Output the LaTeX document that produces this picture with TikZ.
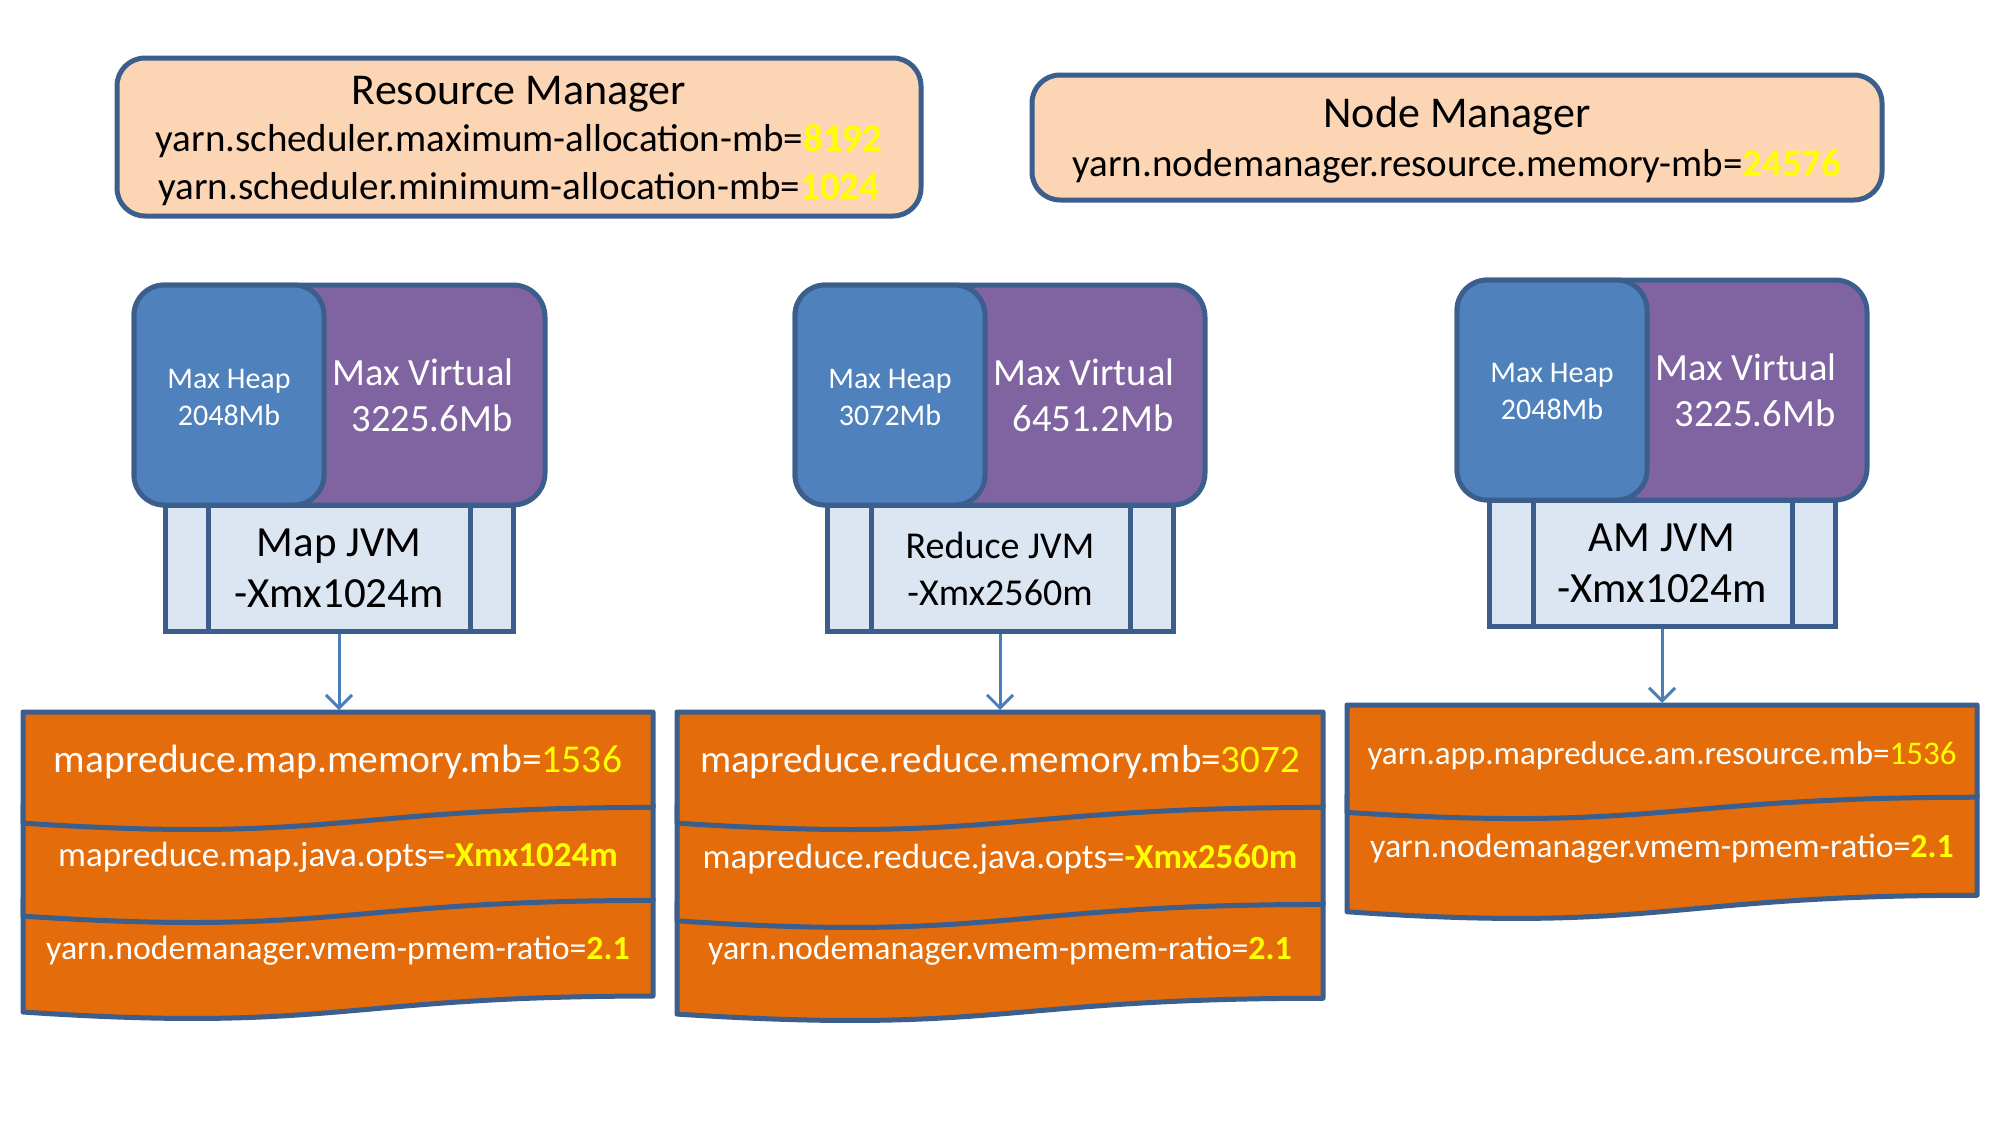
\documentclass[tikz,border=0pt]{standalone}
\usepackage{fontspec}
\setmainfont{Carlito}
\usetikzlibrary{arrows.meta}
\definecolor{peach}{HTML}{FCD5B5}
\definecolor{bord}{HTML}{3B5E8C}
\definecolor{heap}{HTML}{4F81BD}
\definecolor{virt}{HTML}{8064A2}
\definecolor{jvmfill}{HTML}{DCE6F2}
\definecolor{orng}{HTML}{E46C0A}
\definecolor{arr}{HTML}{4A7EBB}
\definecolor{yel}{HTML}{FFFF00}
\newcommand{\fsz}[2]{\fontsize{#1}{#2}\selectfont}
% document section: left, right, top, height
\newcommand{\docsec}[4]{%
  \draw[secstyle] (#1,#3) -- (#2,#3) -- (#2,{#3+0.802*#4})
    .. controls ({(#1+#2)/2},{#3+0.802*#4}) and ({(#1+#2)/2},{#3+1.1075*#4}) .. (#1,{#3+0.934*#4}) -- cycle;}
\begin{document}
\begin{tikzpicture}[x=1pt,y=-1pt,
  mgrbox/.style={draw=bord,fill=peach,line width=5pt,rounded corners=28pt},
  virtbox/.style={draw=bord,fill=virt,line width=5pt,rounded corners=32pt},
  heapbox/.style={draw=bord,fill=heap,line width=5pt,rounded corners=30pt},
  jvmbox/.style={draw=bord,fill=jvmfill,line width=5pt},
  secstyle/.style={draw=bord,fill=orng,line width=5pt,line join=round},
  wtext/.style={text=white,align=center,inner sep=0pt},
  btext/.style={text=black,align=center,inner sep=0pt},
  conn/.style={draw=arr,line width=3pt,-{Straight Barb[length=13pt,width=26pt,line width=3pt]}}
]
\useasboundingbox (0,0) rectangle (2000,1125);
\fill[white] (0,0) rectangle (2000,1125);

% ---------- Resource Manager ----------
\draw[mgrbox] (117,58) rectangle (921,216);
\node[btext,font=\fsz{44}{50}] (rmtitle) at (519,94) {Resource Manager};
\node[btext,font=\fsz{39}{48}] (rmmax) at (519,141) {yarn.scheduler.maximum-allocation-mb=\textbf{\textcolor{yel}{8192}}};
\node[btext,font=\fsz{39}{48}] (rmmin) at (519,189) {yarn.scheduler.minimum-allocation-mb=\textbf{\textcolor{yel}{1024}}};

% ---------- Node Manager ----------
\draw[mgrbox] (1032,75) rectangle (1882,200);
\node[btext,font=\fsz{44}{50}] (nmtitle) at (1457,116) {Node Manager};
\node[btext,font=\fsz{39}{48}] (nmmem) at (1457,166) {yarn.nodemanager.resource.memory-mb=\textbf{\textcolor{yel}{24576}}};

% ---------- Map JVM ----------
\draw[virtbox] (134,285) rectangle (545,505);
\draw[heapbox] (134,285) rectangle (324,505);
\node[wtext,font=\fsz{30}{37}] (mapheap) at (229,397) {Max Heap\\2048Mb};
\node[wtext,font=\fsz{38.5}{46}] (mapvirt) at (423,395) {Max Virtual\\\hspace*{18pt}3225.6Mb};
\draw[jvmbox] (165,505) rectangle (513,631);
\draw[bord,line width=5pt] (208,505) -- (208,631) (470,505) -- (470,631);
\node[btext,font=\fsz{43}{51}] (mapjvm) at (339,568) {Map JVM\\-Xmx1024m};
\coordinate (mapjvmbot) at (339,634);

% ---------- Reduce JVM ----------
\draw[virtbox] (795,285) rectangle (1205,505);
\draw[heapbox] (795,285) rectangle (985,505);
\node[wtext,font=\fsz{30}{37}] (redheap) at (890,397) {Max Heap\\3072Mb};
\node[wtext,font=\fsz{38.5}{46}] (redvirt) at (1084,395) {Max Virtual\\\hspace*{18pt}6451.2Mb};
\draw[jvmbox] (827,505) rectangle (1173,631);
\draw[bord,line width=5pt] (871,505) -- (871,631) (1130,505) -- (1130,631);
\node[btext,font=\fsz{38}{47}] (redjvm) at (1000,569) {Reduce JVM\\-Xmx2560m};
\coordinate (redjvmbot) at (1000,634);

% ---------- AM JVM ----------
\draw[virtbox] (1457,280) rectangle (1867,500);
\draw[heapbox] (1457,280) rectangle (1647,500);
\node[wtext,font=\fsz{30}{37}] (amheap) at (1552,391) {Max Heap\\2048Mb};
\node[wtext,font=\fsz{38.5}{46}] (amvirt) at (1746,390) {Max Virtual\\\hspace*{18pt}3225.6Mb};
\draw[jvmbox] (1489,500) rectangle (1835,626);
\draw[bord,line width=5pt] (1533,500) -- (1533,626) (1792,500) -- (1792,626);
\node[btext,font=\fsz{43}{51}] (amjvm) at (1662,563) {AM JVM\\-Xmx1024m};
\coordinate (amjvmbot) at (1662,629);

% ---------- Map config ----------
\docsec{23}{653}{899}{121}
\docsec{23}{653}{805}{119}
\docsec{23}{653}{712}{119}
\coordinate (maptop) at (339,710);
\node[wtext,font=\fsz{39.5}{47}] (mapmem) at (338,762) {mapreduce.map.memory.mb=\textcolor{yel}{1536}};
\node[wtext,font=\fsz{35}{42}] (mapopts) at (338,857) {mapreduce.map.java.opts=\textbf{\textcolor{yel}{-Xmx1024m}}};
\node[wtext,font=\fsz{33.8}{42}] (mapratio) at (338,951) {yarn.nodemanager.vmem-pmem-ratio=\textbf{\textcolor{yel}{2.1}}};

% ---------- Reduce config ----------
\docsec{677}{1323}{902}{120}
\docsec{677}{1323}{805}{124}
\docsec{677}{1323}{712}{119}
\coordinate (redtop) at (1000,710);
\node[wtext,font=\fsz{39}{47}] (redmem) at (1000,762) {mapreduce.reduce.memory.mb=\textcolor{yel}{3072}};
\node[wtext,font=\fsz{35}{42}] (redopts) at (1000,859) {mapreduce.reduce.java.opts=\textbf{\textcolor{yel}{-Xmx2560m}}};
\node[wtext,font=\fsz{33.8}{42}] (redratio) at (1000,951) {yarn.nodemanager.vmem-pmem-ratio=\textbf{\textcolor{yel}{2.1}}};

% ---------- AM config ----------
\docsec{1347}{1977}{795}{125}
\docsec{1347}{1977}{705}{115}
\coordinate (amtop) at (1662,703);
\node[wtext,font=\fsz{33}{40}] (ammem) at (1662,756) {yarn.app.mapreduce.am.resource.mb=\textcolor{yel}{1536}};
\node[wtext,font=\fsz{33.8}{42}] (amratio) at (1662,849) {yarn.nodemanager.vmem-pmem-ratio=\textbf{\textcolor{yel}{2.1}}};

% ---------- connectors ----------
\draw[conn] (mapjvmbot) -- (maptop);
\draw[conn] (redjvmbot) -- (redtop);
\draw[conn] (amjvmbot) -- (amtop);
\end{tikzpicture}
\end{document}
